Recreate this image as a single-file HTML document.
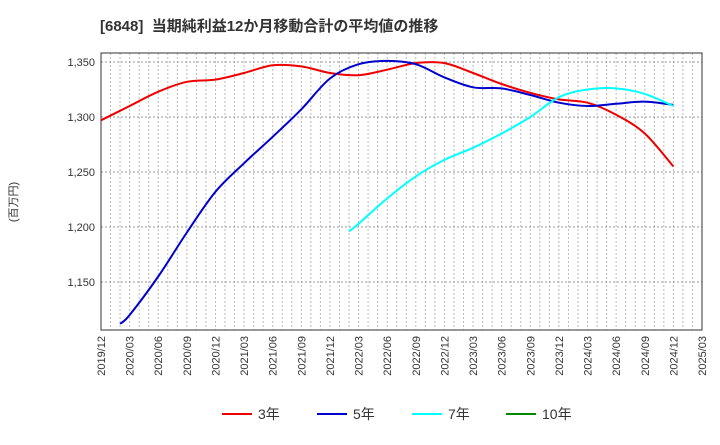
<!DOCTYPE html>
<html><head><meta charset="utf-8"><style>
body{margin:0;background:#fff;}
svg text{font-family:"Liberation Sans","Noto Sans CJK JP",sans-serif;}
</style></head><body>
<svg id="c" width="720" height="440" xmlns="http://www.w3.org/2000/svg">
<text x="100" y="31" font-size="15" font-weight="bold" fill="#333" xml:space="preserve">[6848]  当期純利益12か月移動合計の平均値の推移</text>
<g id="grid"></g>
<rect x="101" y="53" width="601" height="277" fill="none" stroke="#333" stroke-width="1"/>
<g id="axes"></g>
<g id="series"></g>
<text transform="translate(17,202) rotate(-90)" font-size="11" fill="#333" text-anchor="middle">(百万円)</text>
<g id="legend"></g>
</svg>
<script>
const yTicks=[1150,1200,1250,1300,1350];
const xLabels=["2019/12","2020/03","2020/06","2020/09","2020/12","2021/03","2021/06","2021/09","2021/12","2022/03","2022/06","2022/09","2022/12","2023/03","2023/06","2023/09","2023/12","2024/03","2024/06","2024/09","2024/12","2025/03"];
const seriesNames=["3年","5年","7年","10年"];
const seriesColors=["#e00","#00c","#0ff","#080"];
const months3=[0,3,6,9,12,15,18,21,24,27,30,33,36,39,42,45,48,51,54,57,60];
const vals3=[1297,1310,1323,1332,1334,1340,1347,1346,1340,1338,1343,1349,1349,1340,1330,1322,1316,1313,1302,1285,1255];
const months5=[2,3,6,9,12,15,18,21,24,27,30,33,36,39,42,45,48,51,54,57,60];
const vals5=[1112,1120,1155,1195,1232,1258,1282,1307,1335,1348,1351,1348,1336,1327,1326,1320,1313,1310,1312,1314,1311];
const months7=[26,27,30,33,36,39,42,45,48,51,54,57,60];
const vals7=[1196,1203,1226,1246,1261,1272,1285,1300,1318,1325,1326,1321,1310];
const months10=[];const vals10=[];
const NS="http://www.w3.org/2000/svg";
const X0=101,X1=702,NM=63,Y0=330,Y1=53;
const xs=m=>X0+(X1-X0)*m/NM;
function ysc(v){return 282-(v-1150)*1.1;}
function mk(t,a,p){const e=document.createElementNS(NS,t);for(const k in a)e.setAttribute(k,a[k]);p.appendChild(e);return e;}
const grid=document.getElementById('grid'),axes=document.getElementById('axes'),ser=document.getElementById('series'),leg=document.getElementById('legend');
for(let m=1;m<NM;m++){
 const l=mk('line',{x1:xs(m),x2:xs(m),y1:Y1,y2:Y0,stroke:'#bbb','stroke-dasharray':'2,2','stroke-width':1},grid);
 
 
}
yTicks.forEach(v=>{
 const l=mk('line',{x1:X0,x2:X1,y1:ysc(v),y2:ysc(v),stroke:'#999','stroke-dasharray':'2,2','stroke-width':1},grid);
 
 
 const t=mk('text',{x:X0-6,y:ysc(v)+4,'font-size':11,'text-anchor':'end',fill:'#333'},axes);
 t.textContent=v.toLocaleString('en-US');
 
 
});
xLabels.forEach((s,i)=>{
 const x=xs(i*3);
 const t=mk('text',{transform:`translate(${x+4},${336}) rotate(-90)`,'font-size':11,'text-anchor':'end',fill:'#333'},axes);
 t.textContent=s;
 
 
});
function path(ms,vs){
 const p=ms.map((m,i)=>[xs(m),ysc(vs[i])]);
 if(p.length<2)return '';
 let d=`M${p[0][0]},${p[0][1]}`;
 for(let i=0;i<p.length-1;i++){
  const a=p[i-1]||p[i],b=p[i],c=p[i+1],e=p[i+2]||c;
  d+=` C${b[0]+(c[0]-a[0])/6},${b[1]+(c[1]-a[1])/6} ${c[0]-(e[0]-b[0])/6},${c[1]-(e[1]-b[1])/6} ${c[0]},${c[1]}`;
 }
 return d;
}
[[months3,vals3],[months5,vals5],[months7,vals7],[months10,vals10]].forEach((s,i)=>{
 const d=path(s[0],s[1]);if(!d)return;
 const e=mk('path',{d:d,fill:'none',stroke:seriesColors[i],'stroke-width':2},ser);
 
 
});
const lx=[222,317,412,506];
seriesNames.forEach((n,i)=>{
 const g=mk('g',{},leg);
 
 
 mk('line',{x1:lx[i],x2:lx[i]+30,y1:414,y2:414,stroke:seriesColors[i],'stroke-width':2},g);
 const t=mk('text',{x:lx[i]+36,y:419,'font-size':14,fill:'#333'},g);
 t.textContent=n;
});
</script>
</body></html>
